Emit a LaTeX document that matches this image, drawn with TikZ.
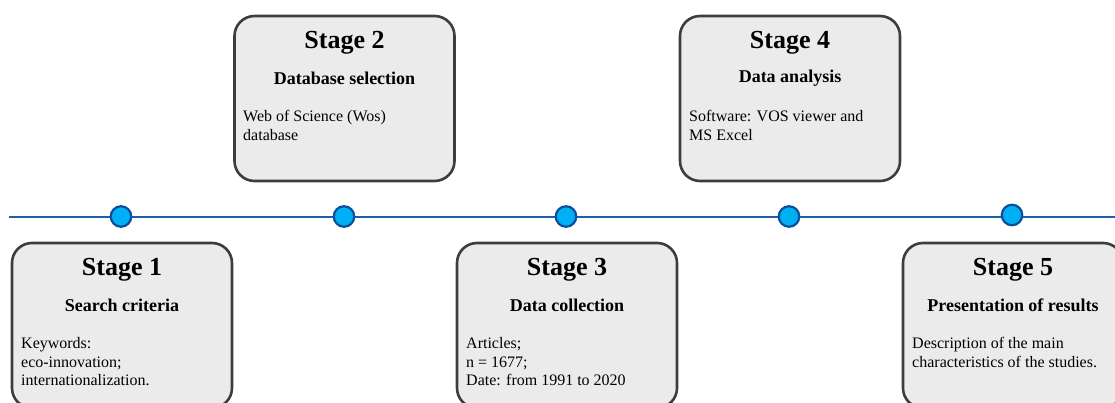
\documentclass[tikz,border=0pt]{standalone}
\usepackage{fontspec}
\setmainfont{Liberation Serif}
\definecolor{boxfill}{HTML}{EBEBEB}
\definecolor{boxborder}{HTML}{3A3D42}
\definecolor{linecol}{HTML}{1F5FAA}
\definecolor{dotfill}{HTML}{00B0F5}
\definecolor{dotborder}{HTML}{0B4F9C}
\begin{document}
\begin{tikzpicture}[x=1pt,y=-1pt,
  stagebox/.style={draw=boxborder, line width=2.6pt, fill=boxfill, rounded corners=20pt, minimum width=220pt, minimum height=165pt, inner sep=0pt},
  dot/.style={circle, draw=dotborder, fill=dotfill, line width=2.2pt, minimum size=20.5pt, inner sep=0pt},
  timeline/.style={draw=linecol, line width=2pt},
  headt/.style={font=\bfseries\fontsize{26}{30}\selectfont, inner sep=0pt},
  subt/.style={font=\bfseries\fontsize{18}{22}\selectfont, inner sep=0pt},
  bodyt/.style={font=\fontsize{16}{18.8}\selectfont, align=left, anchor=north west, inner sep=0pt}]
\useasboundingbox (0,0) rectangle (1115,403);
\clip (0,0) rectangle (1115,403);
% timeline
\coordinate (L) at (9,217);
\coordinate (R) at (1116,217);
\draw[timeline] (L) -- (R);
\node[dot] (c1) at (121,216.5) {};
\node[dot] (c2) at (344,216.5) {};
\node[dot] (c3) at (566,216.5) {};
\node[dot] (c4) at (789,216.5) {};
\node[dot] (c5) at (1012,215) {};
% boxes
\node[stagebox] (b1) at (122,325.5) {};
\node[stagebox] (b2) at (344.5,98.5) {};
\node[stagebox] (b3) at (567,325.5) {};
\node[stagebox] (b4) at (790,98.5) {};
\node[stagebox] (b5) at (1013,325.5) {};
% Stage 1
\node[headt] (h1) at (122,270) {Stage 1};
\node[subt] (s1) at (122,305) {Search criteria};
\node[bodyt] (t1) at (21,337) {Keywords:\\eco-innovation;\\internationalization.};
% Stage 2
\node[headt] (h2) at (344.5,43) {Stage 2};
\node[subt] (s2) at (344.5,78) {Database selection};
\node[bodyt] (t2) at (243,110) {Web of Science (Wos)\\database};
% Stage 3
\node[headt] (h3) at (567,270) {Stage 3};
\node[subt] (s3) at (567,305) {Data collection};
\node[bodyt] (t3) at (466,337) {Articles;\\n = 1677;\\Date: from 1991 to 2020};
% Stage 4
\node[headt] (h4) at (790,43) {Stage 4};
\node[subt] (s4) at (790,78) {Data analysis};
\node[bodyt] (t4) at (689,110) {Software: VOS viewer and\\MS Excel};
% Stage 5
\node[headt] (h5) at (1013,270) {Stage 5};
\node[subt] (s5) at (1013,305) {Presentation of results};
\node[bodyt] (t5) at (912,337) {Description of the main\\characteristics of the studies.};
\end{tikzpicture}
\end{document}
